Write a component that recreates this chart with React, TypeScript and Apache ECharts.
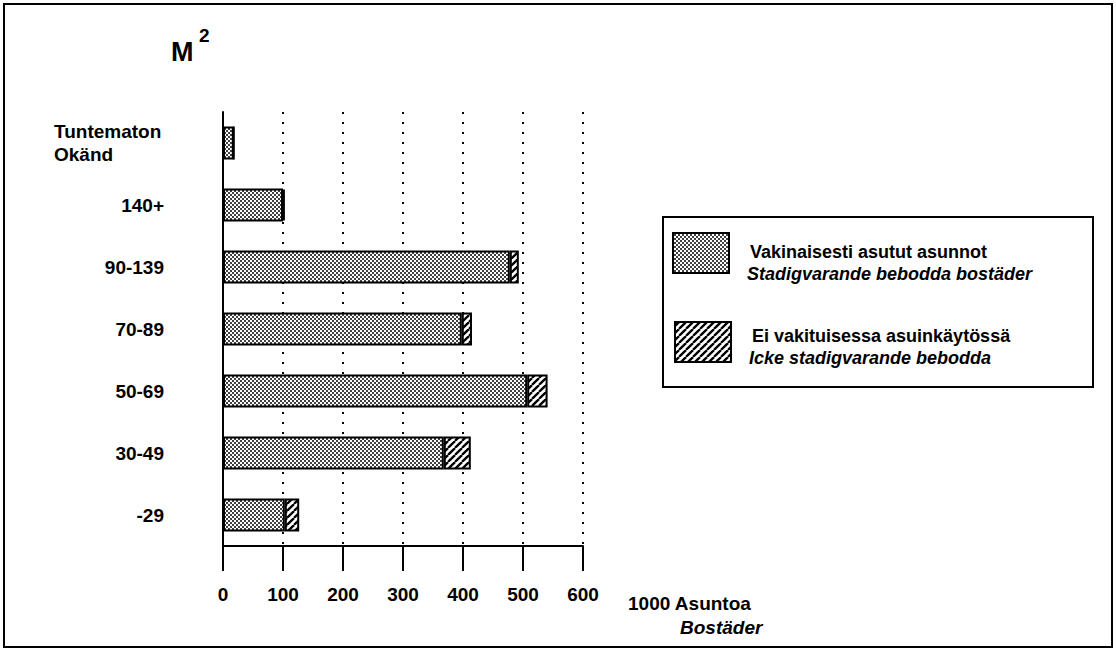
import React, { useEffect, useRef } from 'react';
import * as echarts from 'echarts';

const categories = ['Tuntematon\nOkänd', '140+', '90-139', '70-89', '50-69', '30-49', '-29'];
const permanentlyOccupied = [18, 100, 478, 398, 507, 368, 103];
const notPermanentlyOccupied = [0, 3, 15, 17, 34, 45, 24];
const seriesNames = ['Vakinaisesti asutut asunnot', 'Ei vakituisessa asuinkäytössä'];
const seriesNamesSv = ['Stadigvarande bebodda bostäder', 'Icke stadigvarande bebodda'];
const xMin = 0;
const xMax = 600;
const xStep = 100;
const unitLabel = '1000 Asuntoa';
const unitLabelSv = 'Bostäder';

const FONT = '"Liberation Sans", Arial, Helvetica, sans-serif';

function makeDots(): HTMLCanvasElement {
  const c = document.createElement('canvas');
  c.width = 4;
  c.height = 4;
  const g = c.getContext('2d')!;
  g.fillStyle = '#fff';
  g.fillRect(0, 0, 4, 4);
  g.fillStyle = '#000';
  g.beginPath();
  g.arc(1, 1, 1, 0, Math.PI * 2);
  g.fill();
  g.beginPath();
  g.arc(3, 3, 1, 0, Math.PI * 2);
  g.fill();
  return c;
}

function makeHatch(): HTMLCanvasElement {
  const s = 7;
  const c = document.createElement('canvas');
  c.width = s;
  c.height = s;
  const g = c.getContext('2d')!;
  g.fillStyle = '#fff';
  g.fillRect(0, 0, s, s);
  g.strokeStyle = '#000';
  g.lineWidth = 2.3;
  for (const k of [-s, 0, s]) {
    g.beginPath();
    g.moveTo(k, s);
    g.lineTo(k + s, 0);
    g.stroke();
  }
  return c;
}

export default function App() {
  const ref = useRef<HTMLDivElement>(null);

  useEffect(() => {
    if (!ref.current) return;
    const chart = echarts.init(ref.current, undefined, { renderer: 'svg' });
    const dots = makeDots();
    const hatch = makeHatch();
    const dotFill: any = { image: dots, repeat: 'repeat', imageWidth: 4, imageHeight: 4 };
    const hatchFill: any = { image: hatch, repeat: 'repeat', imageWidth: 7, imageHeight: 7 };

    const labelStyle = { fontFamily: FONT, fontSize: 19, fontWeight: 'bold' as const, color: '#000' };

    chart.setOption({
      animation: false,
      backgroundColor: '#fff',
      grid: { left: 223, right: 533, top: 112, bottom: 105 },
      xAxis: {
        type: 'value',
        min: xMin,
        max: xMax,
        interval: xStep,
        axisLine: { show: true, lineStyle: { color: '#000', width: 2 } },
        axisTick: { show: true, length: 25, lineStyle: { color: '#000', width: 2 } },
        axisLabel: { ...labelStyle, margin: 39 },
        splitLine: { show: true, lineStyle: { color: '#000', width: 2, type: [2, 8] } },
      },
      yAxis: {
        type: 'category',
        data: categories,
        inverse: true,
        axisLine: { show: true, lineStyle: { color: '#000', width: 2 } },
        axisTick: { show: false },
        axisLabel: {
          ...labelStyle,
          margin: 59,
          formatter: (v: string) => {
            if (v.indexOf('\n') >= 0) {
              const [a, b] = v.split('\n');
              return `{w|${a}}\n{w|${b}}`;
            }
            return v;
          },
          rich: {
            w: { ...labelStyle, width: 110, align: 'left', lineHeight: 23 },
          },
        },
      },
      series: [
        {
          name: seriesNames[0],
          type: 'bar',
          stack: 'total',
          barWidth: 33,
          data: permanentlyOccupied,
          itemStyle: { color: dotFill, borderColor: '#000', borderWidth: 2 },
        },
        {
          name: seriesNames[1],
          type: 'bar',
          stack: 'total',
          barWidth: 33,
          data: notPermanentlyOccupied,
          itemStyle: { color: hatchFill, borderColor: '#000', borderWidth: 2 },
        },
      ],
      graphic: [
        {
          type: 'rect',
          shape: { x: 4, y: 4, width: 1108, height: 643 },
          style: { fill: 'none', stroke: '#000', lineWidth: 2 },
          silent: true,
        },
        {
          type: 'text',
          x: 171,
          y: 52,
          style: { text: 'M', fontFamily: FONT, fontSize: 27, fontWeight: 'bold', fill: '#000', textVerticalAlign: 'middle', verticalAlign: 'middle' },
        },
        {
          type: 'text',
          x: 199,
          y: 35,
          style: { text: '2', fontFamily: FONT, fontSize: 19, fontWeight: 'bold', fill: '#000', verticalAlign: 'middle' },
        },
        {
          type: 'text',
          x: 628,
          y: 603,
          style: { text: unitLabel, fontFamily: FONT, fontSize: 19, fontWeight: 'bold', fill: '#000', verticalAlign: 'middle' },
        },
        {
          type: 'text',
          x: 680,
          y: 627,
          style: { text: unitLabelSv, fontFamily: FONT, fontSize: 19, fontWeight: 'bold', fontStyle: 'italic', fill: '#000', verticalAlign: 'middle' },
        },
        {
          type: 'rect',
          shape: { x: 663, y: 217, width: 430, height: 170 },
          style: { fill: '#fff', stroke: '#000', lineWidth: 2 },
        },
        {
          type: 'rect',
          shape: { x: 673, y: 233, width: 56, height: 40 },
          style: { fill: dotFill, stroke: '#000', lineWidth: 2 },
        },
        {
          type: 'rect',
          shape: { x: 675, y: 322, width: 56, height: 40 },
          style: { fill: hatchFill, stroke: '#000', lineWidth: 2 },
        },
        {
          type: 'text',
          x: 750,
          y: 252,
          style: { text: seriesNames[0], fontFamily: FONT, fontSize: 18, fontWeight: 'bold', fill: '#000', verticalAlign: 'middle' },
        },
        {
          type: 'text',
          x: 747,
          y: 274,
          style: { text: seriesNamesSv[0], fontFamily: FONT, fontSize: 18, fontWeight: 'bold', fontStyle: 'italic', fill: '#000', verticalAlign: 'middle' },
        },
        {
          type: 'text',
          x: 752,
          y: 336,
          style: { text: seriesNames[1], fontFamily: FONT, fontSize: 18, fontWeight: 'bold', fill: '#000', verticalAlign: 'middle' },
        },
        {
          type: 'text',
          x: 749,
          y: 358,
          style: { text: seriesNamesSv[1], fontFamily: FONT, fontSize: 18, fontWeight: 'bold', fontStyle: 'italic', fill: '#000', verticalAlign: 'middle' },
        },
      ],
    });
    return () => chart.dispose();
  }, []);

  return (
    <div
      ref={ref}
      style={{ position: 'absolute', left: 0, top: 0, width: 1116, height: 651, background: '#fff' }}
    />
  );
}
